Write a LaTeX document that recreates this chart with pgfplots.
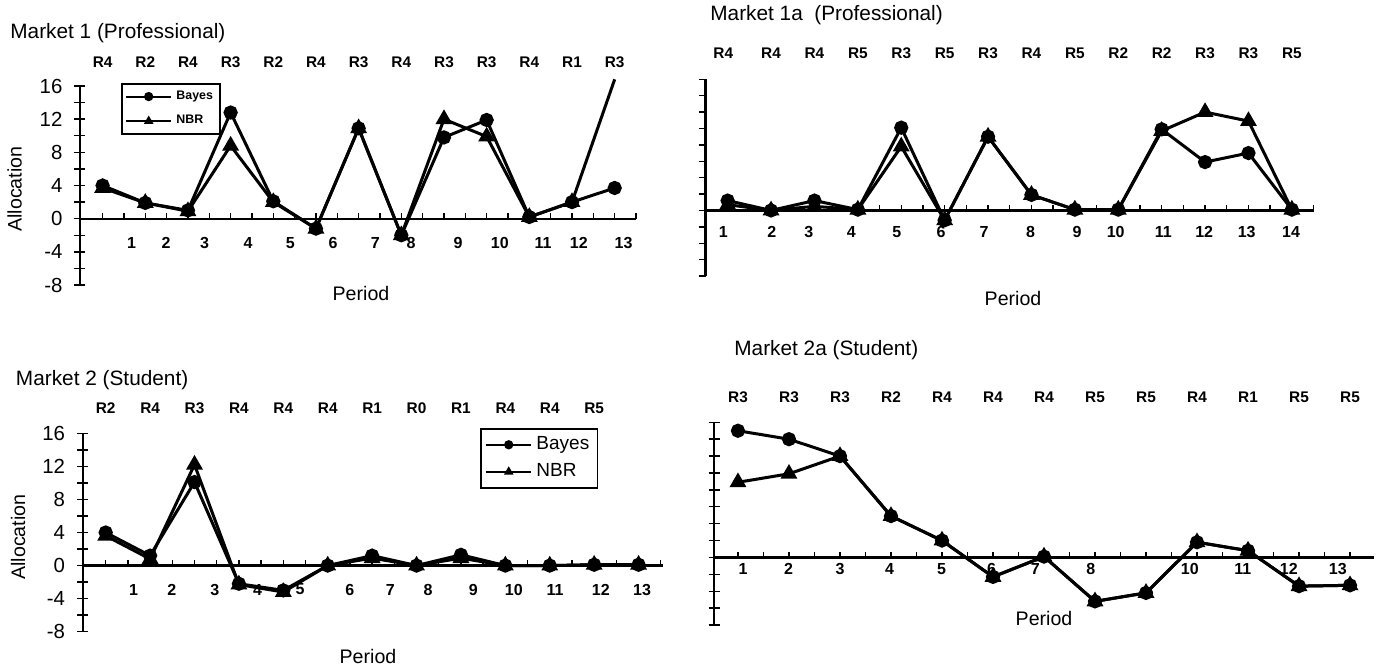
\documentclass[border=0pt]{standalone}
\usepackage{fontspec}
\setmainfont{Liberation Sans}
\usepackage{pgfplots}
\pgfplotsset{compat=1.18}
\newcommand{\rfont}{\fontsize{7.7}{9}\selectfont\bfseries}
\newcommand{\xfont}{\fontsize{8}{9}\selectfont\bfseries}
\newcommand{\tfont}{\fontsize{10.4}{12}\selectfont}
\newcommand{\lfont}{\fontsize{9.8}{11}\selectfont}
\newcommand{\lbl}[3]{\node[font=\rfont] at (axis cs:#1,#2) {#3};}
\newcommand{\xl}[3]{\node[font=\xfont] at (axis cs:#1,#2) {#3};}
\pgfplotsset{
  mkt/.style={
    scale only axis, clip=false, anchor=south west,
    axis x line=middle, axis y line=left,
    axis line style={-, line width=1.1pt, black},
    ymin=-8, ymax=16,
    xtick=\empty,
    major tick length=5.5pt,
    every tick/.style={black, line width=0.7pt},
    ytick={-8,-6,...,16},
    yticklabel style={font=\fontsize{10.2}{11}\selectfont, xshift=-2.5pt},
    extra x tick labels={},
    extra x tick style={major tick length=2.6pt, xtick align=center,
      major x tick style={yshift=1.3pt}},
    legend cell align=left,
    legend image code/.code={\draw[mark repeat=2,mark phase=2,##1] plot coordinates {(0cm,0cm) (0.4cm,0cm) (0.8cm,0cm)};},
    legend image post style={mark size=1.8pt, line width=1pt},
  },
  bayes/.style={black, line width=1.5pt, mark=*, mark size=2.8pt},
  nbr/.style={black, line width=1.5pt, mark=triangle*, mark size=3.4pt},
}
\begin{document}
\begin{tikzpicture}
\useasboundingbox (0,0) rectangle (691.5pt,335pt);
% ---------- Market 1 ----------
\begin{axis}[mkt, at={(40pt,192.5pt)}, width=278pt, height=99.5pt,
  xmin=0.47, xmax=13.5, extra x ticks={1,1.5,...,13.5},
  yticklabels={-8,,-4,,0,,4,,8,,12,,16}, ytick align=center,
  legend style={at={(0.074,1.015)}, anchor=north west, draw=black, line width=0.8pt,
    font=\fontsize{6.2}{7}\selectfont\bfseries, row sep=2.5pt, inner sep=1.5pt}]
\addplot[bayes] coordinates {(1,4.0)(2,1.9)(3,1.0)(4,12.8)(5,2.1)(6,-1.2)(7,10.9)(8,-2.0)(9,9.8)(10,11.9)(11,0.2)(12,2.0)(13,3.7)};
\addplot[nbr] coordinates {(1,3.7)(2,1.9)(3,0.9)(4,8.8)(5,2.0)(6,-1.2)(7,10.9)(8,-2.0)(9,12.0)(10,9.9)(11,0.2)(12,2.0)};
\addplot[black, line width=1.5pt, mark=none, forget plot] coordinates {(12,2.0)(13,16.8)};
\legend{Bayes,NBR}
\lbl{1}{18.9}{R4}\lbl{2}{18.9}{R2}\lbl{3}{18.9}{R4}\lbl{4}{18.9}{R3}\lbl{5}{18.9}{R2}
\lbl{6}{18.9}{R4}\lbl{7}{18.9}{R3}\lbl{8}{18.9}{R4}\lbl{9}{18.9}{R3}\lbl{10}{18.9}{R3}
\lbl{11}{18.9}{R4}\lbl{12}{18.9}{R1}\lbl{13}{18.9}{R3}
\xl{1.68}{-2.9}{1}\xl{2.49}{-2.9}{2}\xl{3.39}{-2.9}{3}\xl{4.41}{-2.9}{4}\xl{5.40}{-2.9}{5}
\xl{6.40}{-2.9}{6}\xl{7.39}{-2.9}{7}\xl{8.23}{-2.9}{8}\xl{9.33}{-2.9}{9}\xl{10.31}{-2.9}{10}
\xl{11.32}{-2.9}{11}\xl{12.16}{-2.9}{12}\xl{13.21}{-2.9}{13}
\end{axis}
% ---------- Market 1a ----------
\begin{axis}[mkt, at={(352.75pt,197pt)}, width=304.25pt, height=98.35pt,
  xmin=0.49, xmax=14.51, extra x ticks={1,1.5,...,14.5},
  yticklabels={}, ytick align=outside, major tick length=3.5pt]
\addplot[bayes] coordinates {(1,1.2)(2,0.0)(3,1.2)(4,0.1)(5,10.1)(6,-1.2)(7,9.0)(8,1.9)(9,0.1)(10,0.1)(11,9.9)(12,5.9)(13,7.0)(14,0.1)};
\addplot[nbr] coordinates {(1,0.7)(2,0.0)(3,0.5)(4,0.1)(5,7.8)(6,-1.2)(7,9.0)(8,1.9)(9,0.1)(10,0.1)(11,9.7)(12,12.0)(13,10.9)(14,0.1)};
\lbl{0.9}{19.2}{R4}\lbl{2}{19.2}{R4}\lbl{3}{19.2}{R4}\lbl{4}{19.2}{R5}\lbl{5}{19.2}{R3}
\lbl{6}{19.2}{R5}\lbl{7}{19.2}{R3}\lbl{8}{19.2}{R4}\lbl{9}{19.2}{R5}\lbl{10}{19.2}{R2}
\lbl{11}{19.2}{R2}\lbl{12}{19.2}{R3}\lbl{13}{19.2}{R3}\lbl{14}{19.2}{R5}
\xl{0.9}{-2.6}{1}\xl{2.02}{-2.6}{2}\xl{2.87}{-2.6}{3}\xl{3.85}{-2.6}{4}\xl{4.9}{-2.6}{5}
\xl{5.92}{-2.6}{6}\xl{6.91}{-2.6}{7}\xl{7.98}{-2.6}{8}\xl{9.05}{-2.6}{9}\xl{9.94}{-2.6}{10}
\xl{11.04}{-2.6}{11}\xl{11.98}{-2.6}{12}\xl{12.96}{-2.6}{13}\xl{13.98}{-2.6}{14}
\end{axis}
% ---------- Market 2 ----------
\begin{axis}[mkt, at={(41.3pt,19.15pt)}, width=290.2pt, height=99.2pt,
  xmin=0.48, xmax=13.55, extra x ticks={1,1.5,...,13.5},
  yticklabels={-8,,-4,,0,,4,,8,,12,,16}, ytick align=center,
  legend style={at={(0.685,1.027)}, anchor=north west, draw=black, line width=0.8pt,
    font=\fontsize{9.5}{11}\selectfont, row sep=1.5pt, inner sep=2pt}]
\addplot[bayes] coordinates {(1,4.0)(2,1.2)(3,10.1)(4,-2.2)(5,-3.0)(6,0.0)(7,1.2)(8,0.0)(9,1.3)(10,0.0)(11,0.0)(12,0.1)(13,0.1)};
\addplot[nbr] coordinates {(1,3.6)(2,0.8)(3,12.2)(4,-2.3)(5,-3.2)(6,0.0)(7,0.9)(8,0.0)(9,0.9)(10,0.0)(11,0.0)(12,0.1)(13,0.1)};
\legend{Bayes,NBR}
\lbl{1}{19}{R2}\lbl{2}{19}{R4}\lbl{3}{19}{R3}\lbl{4}{19}{R4}\lbl{5}{19}{R4}\lbl{6}{19}{R4}
\lbl{7}{19}{R1}\lbl{8}{19}{R0}\lbl{9}{19}{R1}\lbl{10}{19}{R4}\lbl{11}{19}{R4}\lbl{12}{19}{R5}
\xl{1.63}{-2.9}{1}\xl{2.49}{-2.9}{2}\xl{3.46}{-2.9}{3}\xl{4.42}{-2.9}{4}\xl{5.38}{-2.9}{5}
\xl{6.50}{-2.9}{6}\xl{7.41}{-2.9}{7}\xl{8.26}{-2.9}{8}\xl{9.28}{-2.9}{9}\xl{10.19}{-2.9}{10}
\xl{11.12}{-2.9}{11}\xl{12.15}{-2.9}{12}\xl{13.08}{-2.9}{13}
\end{axis}
% ---------- Market 2a ----------
\begin{axis}[mkt, at={(357pt,22.5pt)}, width=330pt, height=101.35pt,
  xmin=0.53, xmax=13.47, extra x ticks={1,1.5,...,13.5},
  yticklabels={}, ytick align=center]
\addplot[bayes] coordinates {(1,15.0)(2,14.0)(3,12.0)(4,4.9)(5,2.0)(6,-2.3)(7,0.1)(8,-5.2)(9,-4.2)(10,1.8)(11,0.8)(12,-3.4)(13,-3.3)};
\addplot[nbr] coordinates {(1,8.9)(2,9.9)(3,12.0)(4,4.9)(5,2.0)(6,-2.3)(7,0.1)(8,-5.2)(9,-4.2)(10,1.8)(11,0.8)(12,-3.4)(13,-3.3)};
\lbl{1}{19}{R3}\lbl{2}{19}{R3}\lbl{3}{19}{R3}\lbl{4}{19}{R2}\lbl{5}{19}{R4}\lbl{6}{19}{R4}
\lbl{7}{19}{R4}\lbl{8}{19}{R5}\lbl{9}{19}{R5}\lbl{10}{19}{R4}\lbl{11}{19}{R1}\lbl{12}{19}{R5}\lbl{13}{19}{R5}
\xl{1.10}{-1.4}{1}\xl{1.99}{-1.4}{2}\xl{3.0}{-1.4}{3}\xl{3.97}{-1.4}{4}\xl{4.99}{-1.4}{5}
\xl{5.97}{-1.4}{6}\xl{6.83}{-1.4}{7}\xl{7.92}{-1.4}{8}\xl{9.86}{-1.4}{10}
\xl{10.9}{-1.4}{11}\xl{11.8}{-1.4}{12}\xl{12.76}{-1.4}{13}
\end{axis}
% ---------- titles and labels ----------
\node[anchor=west, inner sep=0pt, font=\tfont] at (5pt,318.5pt) {Market 1 (Professional)};
\node[anchor=west, inner sep=0pt, font=\tfont] at (355pt,327.5pt) {Market 1a\ \ (Professional)};
\node[anchor=west, inner sep=0pt, font=\tfont] at (7.8pt,145pt) {Market 2 (Student)};
\node[anchor=west, inner sep=0pt, font=\tfont] at (367pt,160pt) {Market 2a (Student)};
\node[font=\lfont] at (180.5pt,188.5pt) {Period};
\node[font=\lfont] at (506.5pt,186pt) {Period};
\node[font=\lfont] at (184pt,7pt) {Period};
\node[font=\lfont] at (522pt,26pt) {Period};
\node[font=\lfont, rotate=90] at (7.3pt,240.5pt) {Allocation};
\node[font=\lfont, rotate=90] at (9pt,66.5pt) {Allocation};
\end{tikzpicture}
\end{document}
